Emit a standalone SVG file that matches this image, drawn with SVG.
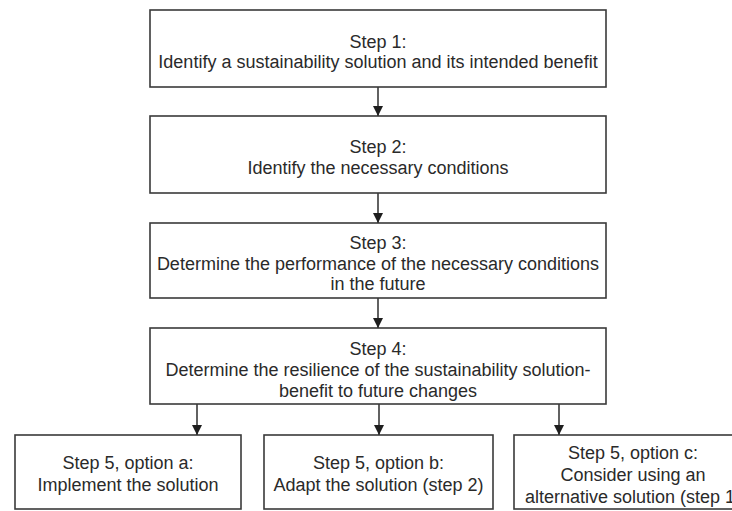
<svg xmlns="http://www.w3.org/2000/svg" width="732" height="511" viewBox="0 0 732 511">
<style>
.box{fill:#fff;stroke:#3a3a3a;stroke-width:1.6}
.t{font-family:"Liberation Sans",Arial,Helvetica,sans-serif;font-size:18px;fill:#2a2a2a;text-anchor:middle}
.edge{stroke:#3a3a3a;stroke-width:1.6;fill:none;marker-end:url(#ah)}
</style>
<defs>
<marker id="ah" viewBox="0 0 10 12" refX="10" refY="5" markerWidth="10" markerHeight="12" markerUnits="userSpaceOnUse" orient="auto">
<path d="M0,0 L10,5 L0,10 Z" fill="#1e1e1e"/>
</marker>
</defs>
<rect width="732" height="511" fill="#fff"/>
<g id="step1">
<rect class="box" x="150" y="10" width="456" height="77"/>
<text class="t" x="378" y="48">Step 1:</text>
<text class="t" x="378" y="68">Identify a sustainability solution and its intended benefit</text>
</g>
<g id="step2">
<rect class="box" x="150" y="116" width="456" height="77"/>
<text class="t" x="378" y="153">Step 2:</text>
<text class="t" x="378" y="174">Identify the necessary conditions</text>
</g>
<g id="step3">
<rect class="box" x="150" y="223" width="456" height="75"/>
<text class="t" x="378" y="249">Step 3:</text>
<text class="t" x="378" y="269.5">Determine the performance of the necessary conditions</text>
<text class="t" x="378" y="290">in the future</text>
</g>
<g id="step4">
<rect class="box" x="150" y="328" width="456" height="76"/>
<text class="t" x="378" y="354.5">Step 4:</text>
<text class="t" x="378" y="376">Determine the resilience of the sustainability solution-</text>
<text class="t" x="378" y="397">benefit to future changes</text>
</g>
<g id="step5a">
<rect class="box" x="15" y="435" width="226" height="74"/>
<text class="t" x="128" y="469">Step 5, option a:</text>
<text class="t" x="128" y="491">Implement the solution</text>
</g>
<g id="step5b">
<rect class="box" x="264" y="435" width="229" height="74"/>
<text class="t" x="378.5" y="469">Step 5, option b:</text>
<text class="t" x="378.5" y="491">Adapt the solution (step 2)</text>
</g>
<g id="step5c">
<rect class="box" x="514" y="435" width="238" height="74"/>
<text class="t" x="633" y="459">Step 5, option c:</text>
<text class="t" x="633" y="481">Consider using an</text>
<text class="t" x="633" y="503">alternative solution (step 1)</text>
</g>
<g id="connectors">
<line class="edge" x1="378" y1="87" x2="378" y2="116" transform=""/>
<line class="edge" x1="378" y1="193" x2="378" y2="223"/>
<line class="edge" x1="378" y1="298" x2="378" y2="328"/>
<line class="edge" x1="197" y1="404" x2="197" y2="435"/>
<line class="edge" x1="379" y1="404" x2="379" y2="435"/>
<line class="edge" x1="559" y1="404" x2="559" y2="435"/>
</g>
</svg>
